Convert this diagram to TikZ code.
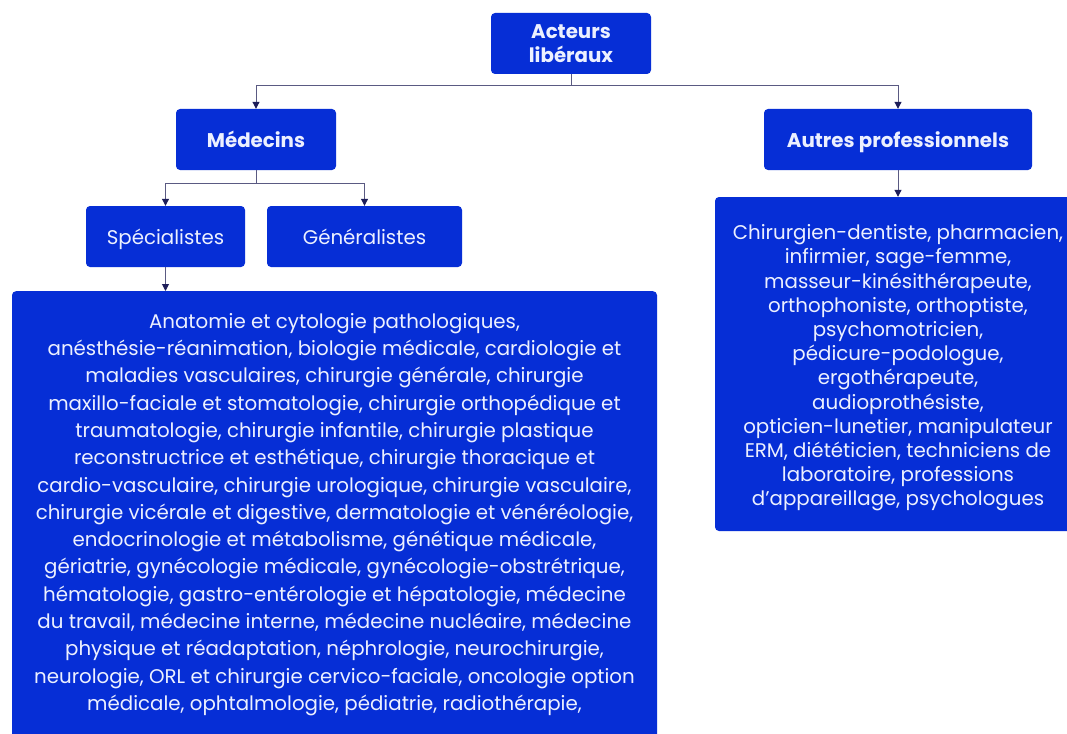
\documentclass[tikz,border=0pt]{standalone}
\usepackage{fontspec}
\setmainfont{Poppins}
\usetikzlibrary{arrows.meta}
\definecolor{boxblue}{RGB}{6,46,214}
\definecolor{txtwhite}{RGB}{236,240,255}
\definecolor{linegray}{RGB}{90,90,130}
\definecolor{tipnavy}{RGB}{30,30,90}
\tikzset{
  box/.style={fill=boxblue, rounded corners=4pt, text=txtwhite, align=center, inner sep=0pt},
  headbox/.style={box, minimum height=61pt, font=\fontsize{19.8}{24}\selectfont\bfseries},
  subbox/.style={box, minimum height=61pt, font=\fontsize{19.8}{24}\selectfont},
  conn/.style={draw=linegray, line width=1pt, -{Triangle[length=7pt,width=7pt,color=tipnavy]}},
  bodytext/.style={text=txtwhite, align=center, inner sep=0pt},
}
\begin{document}
\begin{tikzpicture}[x=1pt,y=-1pt]
\useasboundingbox (0,0) rectangle (1067,733);
\clip (0,0) rectangle (1067,733);
\fill[white] (0,0) rectangle (1067,733);

\node[headbox, minimum width=160pt] (act) at (571,43.5) {Acteurs\\libéraux};
\node[headbox, minimum width=160pt] (med) at (256,139.5) {Médecins};
\node[headbox, minimum width=268pt] (aut) at (898,139.5) {\raisebox{0pt}[\height][0pt]{Autres professionnels}};
\node[subbox, minimum width=159pt] (spe) at (165.5,236.5) {\raisebox{0pt}[\height][0pt]{Spécialistes}};
\node[subbox, minimum width=195pt] (gen) at (364.5,236.5) {Généralistes};

\node[box, anchor=north, minimum width=645pt, minimum height=480pt] (spec) at (334.5,291) {};
\node[bodytext, anchor=north, font=\fontsize{19.8}{27.3}\selectfont] (spectxt) at ([yshift=-22pt]spec.north) {%
Anatomie et cytologie pathologiques,\\
anésthésie-réanimation, biologie médicale, cardiologie et\\
maladies vasculaires, chirurgie générale, chirurgie\\
maxillo-faciale et stomatologie, chirurgie orthopédique et\\
traumatologie, chirurgie infantile, chirurgie plastique\\
reconstructrice et esthétique, chirurgie thoracique et\\
cardio-vasculaire, chirurgie urologique, chirurgie vasculaire,\\
chirurgie vicérale et digestive, dermatologie et vénéréologie,\\
endocrinologie et métabolisme, génétique médicale,\\
gériatrie, gynécologie médicale, gynécologie-obstrétrique,\\
hématologie, gastro-entérologie et hépatologie, médecine\\
du travail, médecine interne, médecine nucléaire, médecine\\
physique et réadaptation, néphrologie, neurochirurgie,\\
neurologie, ORL et chirurgie cervico-faciale, oncologie option\\
médicale, ophtalmologie, pédiatrie, radiothérapie,};

\node[box, minimum width=366pt, minimum height=334pt] (oth) at (898,364) {};
\node[bodytext, font=\fontsize{19.8}{24.2}\selectfont] (othtxt) at ([yshift=-4pt]oth.center) {%
Chirurgien-dentiste, pharmacien,\\
infirmier, sage-femme,\\
masseur-kinésithérapeute,\\
orthophoniste, orthoptiste,\\
psychomotricien,\\
pédicure-podologue,\\
ergothérapeute,\\
audioprothésiste,\\
opticien-lunetier, manipulateur\\
ERM, diététicien, techniciens de\\
laboratoire, professions\\
d’appareillage, psychologues};

\draw[conn] (act.south) -- ++(0,11) -| (med.north);
\draw[conn] (act.south) -- ++(0,11) -| (aut.north);
\draw[conn] (med.south) -- ++(0,13) -| (spe.north);
\draw[conn] (med.south) -- ++(0,13) -| (gen.north);
\draw[conn] (spe.south) -- (spec.north -| spe.south);
\draw[conn] (aut.south) -- (oth.north);
\end{tikzpicture}
\end{document}
